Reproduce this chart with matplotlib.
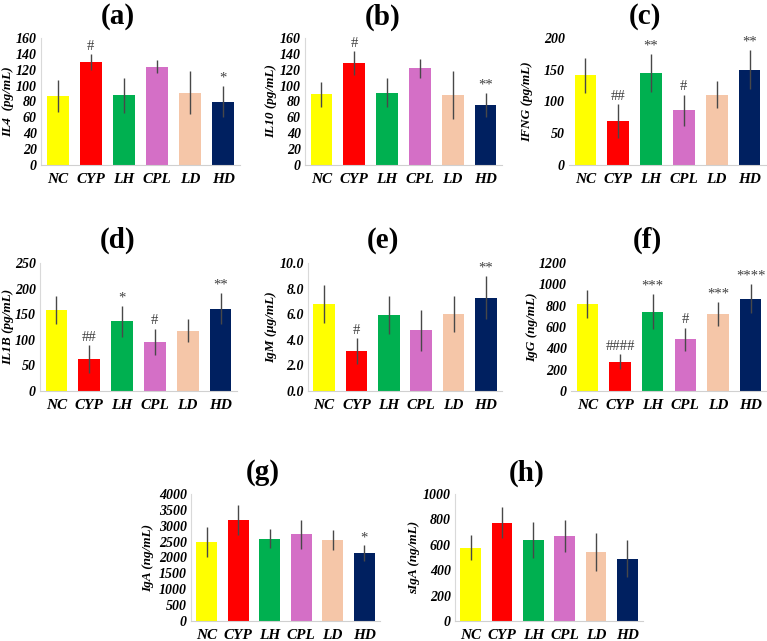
import matplotlib.pyplot as plt

groups = ["NC", "CYP", "LH", "CPL", "LD", "HD"]
colors = ["#FFFF00", "#FF0000", "#00B050", "#D46FC6", "#F5C6A8", "#002060"]

il4 = [87, 130, 88, 124, 91, 80]
il4_err = [20, 10, 22, 8, 27, 20]
il4_marks = ["", "#", "", "", "", "*"]

il10 = [89, 128, 91, 122, 88, 76]
il10_err = [16, 15, 18, 12, 30, 15]
il10_marks = ["", "#", "", "", "", "**"]

ifng = [141, 69, 145, 86, 111, 150]
ifng_err = [27, 27, 30, 25, 22, 31]
ifng_marks = ["", "##", "**", "#", "", "**"]

il1b = [158, 62, 136, 96, 118, 161]
il1b_err = [27, 27, 30, 26, 22, 31]
il1b_marks = ["", "##", "*", "#", "", "**"]

igm = [6.8, 3.14, 5.94, 4.76, 6.02, 7.3]
igm_err = [1.5, 1.0, 1.5, 1.6, 1.4, 1.7]
igm_marks = ["", "#", "", "", "", "**"]

igg = [814, 276, 745, 484, 723, 867]
igg_err = [130, 70, 165, 110, 115, 135]
igg_marks = ["", "####", "***", "#", "***", "****"]

iga = [2490, 3185, 2590, 2736, 2559, 2130]
iga_err = [470, 470, 300, 460, 310, 250]
iga_marks = ["", "", "", "", "", "*"]

siga = [577, 774, 636, 668, 543, 491]
siga_err = [100, 120, 140, 127, 150, 146]
siga_marks = ["", "", "", "", "", ""]

W, H = 767, 641
SERIF = "Liberation Serif"


def panel(box, title, title_xy, label_x, values, errs, marks, ylabel, ymax,
          step, fmt="{:.0f}", show_left=True):
    left, right, top, bottom = box
    ax = fig.add_axes([left / W, 1 - bottom / H, (right - left) / W,
                       (bottom - top) / H])
    x = list(range(len(groups)))
    ax.bar(x, values, width=0.66, color=colors, zorder=2)
    ax.errorbar(x, values, yerr=errs, fmt="none", ecolor="#484848",
                elinewidth=1.0, capsize=0, zorder=3)
    for xi, v, e, m in zip(x, values, errs, marks):
        if m:
            ax.text(xi, v + e + ymax * 0.01, m, ha="center", va="bottom",
                    fontsize=10.5, family=SERIF, color="#404040")
    ax.set_xlim(-0.5, 5.5)
    ax.set_ylim(0, ymax)
    ticks = []
    t = 0
    while t <= ymax + 1e-9:
        ticks.append(t)
        t += step
    ax.set_yticks(ticks)
    ax.set_yticklabels([fmt.format(v) for v in ticks], family=SERIF,
                       fontsize=10, fontweight="bold", style="italic")
    ax.set_xticks(x)
    ax.set_xticklabels(groups, family=SERIF, fontsize=11,
                       fontweight="bold", style="italic")
    ax.tick_params(length=0, pad=3)
    ax.tick_params(axis="x", pad=6)
    ax.set_ylabel(ylabel, family=SERIF, fontsize=9.5, fontweight="bold",
                  style="italic")
    # pin the label centre at a fixed pixel column, like the original
    ax.yaxis.label.set_va("center")
    ax.yaxis.set_label_coords((label_x - left) / (right - left), 0.5)
    for s in ["top", "right"]:
        ax.spines[s].set_visible(False)
    ax.spines["bottom"].set_color("#D0D0D0")
    ax.spines["left"].set_color("#D9D9D9")
    ax.spines["left"].set_visible(show_left)
    fig.text(title_xy[0] / W, 1 - title_xy[1] / H, title, ha="center",
             va="center", family=SERIF, fontsize=21, fontweight="bold")
    return ax


fig = plt.figure(figsize=(W / 100, H / 100), dpi=100)

panel((41, 240, 38, 165), "(a)", (118, 17), 8, il4, il4_err, il4_marks,
      "IL4  (pg/mL)", 160, 20)
panel((305, 502, 38, 165), "(b)", (383, 17), 271, il10, il10_err, il10_marks,
      "IL10 (pg/mL)", 160, 20)
panel((569, 766, 38, 165), "(c)", (645, 17), 527, ifng, ifng_err, ifng_marks,
      "IFNG (pg/mL)", 200, 50, show_left=False)
panel((40, 237, 263, 391), "(d)", (118, 240), 8, il1b, il1b_err, il1b_marks,
      "IL1B (pg/mL)", 250, 50)
panel((308, 502, 263, 391), "(e)", (383, 240), 271, igm, igm_err, igm_marks,
      "IgM (μg/mL)", 10, 2, fmt="{:.1f}")
panel((571, 767, 263, 391), "(f)", (647, 240), 532, igg, igg_err, igg_marks,
      "IgG (ng/mL)", 1200, 200, show_left=False)
panel((191, 380, 494, 621), "(g)", (263, 473), 148, iga, iga_err, iga_marks,
      "IgA (ng/mL)", 4000, 500)
panel((455, 643, 494, 621), "(h)", (527, 473), 414, siga, siga_err,
      siga_marks, "sIgA (ng/mL)", 1000, 200)

fig.savefig("out.png", dpi=100)
print("Chart saved as out.png")
